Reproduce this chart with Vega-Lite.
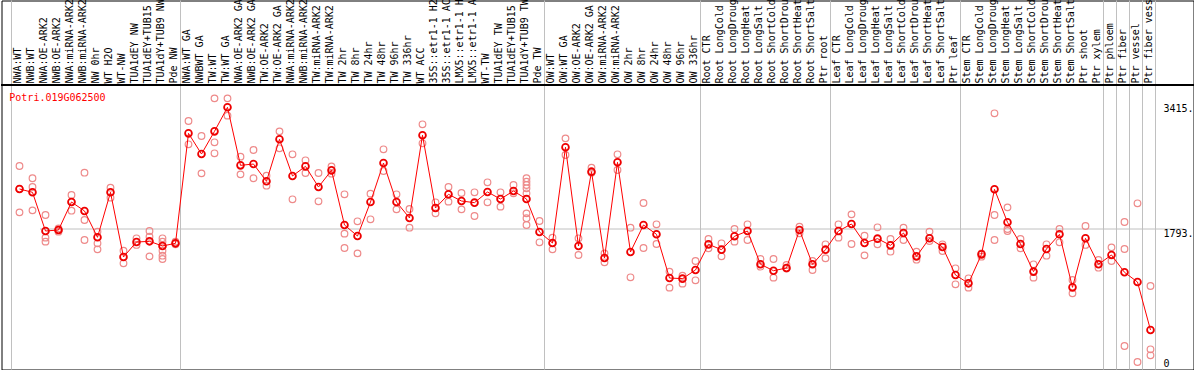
{
  "$schema": "https://vega.github.io/schema/vega-lite/v6.json",
  "width": 1192,
  "height": 369,
  "autosize": {"type": "none"},
  "padding": {"left": 1.5, "top": 0.5, "right": 0.5, "bottom": 0.5},
  "background": "white",
  "config": {"view": {"stroke": "black", "strokeWidth": 1}, "font": "DejaVu Sans Mono"},
  "title": {"text": "Potri.019G062500", "anchor": "start", "frame": "group", "orient": "top", "offset": -127.6, "dx": 7.8, "baseline": "middle", "font": "DejaVu Sans Mono", "fontSize": 10, "fontWeight": "normal", "color": "#ff0000"},
  "data": {"values": [
    {"s":"NWA:WT","g":"NW","k":"mean","v":2303},{"s":"NWA:WT","g":"NW","k":"rep","v":2601},{"s":"NWA:WT","g":"NW","k":"rep","v":2303},{"s":"NWA:WT","g":"NW","k":"rep","v":2000},
    {"s":"NWB:WT","g":"NW","k":"mean","v":2260},{"s":"NWB:WT","g":"NW","k":"rep","v":2442},{"s":"NWB:WT","g":"NW","k":"rep","v":2329},{"s":"NWB:WT","g":"NW","k":"rep","v":2026},
    {"s":"NWA:OE-ARK2","g":"NW","k":"mean","v":1758},{"s":"NWA:OE-ARK2","g":"NW","k":"rep","v":1966},{"s":"NWA:OE-ARK2","g":"NW","k":"rep","v":1672},{"s":"NWA:OE-ARK2","g":"NW","k":"rep","v":1620},
    {"s":"NWB:OE-ARK2","g":"NW","k":"mean","v":1771},{"s":"NWB:OE-ARK2","g":"NW","k":"rep","v":1792},{"s":"NWB:OE-ARK2","g":"NW","k":"rep","v":1771},{"s":"NWB:OE-ARK2","g":"NW","k":"rep","v":1749},
    {"s":"NWA:miRNA-ARK2","g":"NW","k":"mean","v":2134},{"s":"NWA:miRNA-ARK2","g":"NW","k":"rep","v":2225},{"s":"NWA:miRNA-ARK2","g":"NW","k":"rep","v":2134},{"s":"NWA:miRNA-ARK2","g":"NW","k":"rep","v":2022},
    {"s":"NWB:miRNA-ARK2","g":"NW","k":"mean","v":2018},{"s":"NWB:miRNA-ARK2","g":"NW","k":"rep","v":2515},{"s":"NWB:miRNA-ARK2","g":"NW","k":"rep","v":1901},{"s":"NWB:miRNA-ARK2","g":"NW","k":"rep","v":1641},
    {"s":"NW 0hr","g":"NW","k":"mean","v":1676},{"s":"NW 0hr","g":"NW","k":"rep","v":1750},{"s":"NW 0hr","g":"NW","k":"rep","v":1598},{"s":"NW 0hr","g":"NW","k":"rep","v":1520},
    {"s":"WT H2O","g":"NW","k":"mean","v":2260},{"s":"WT H2O","g":"NW","k":"rep","v":2320},{"s":"WT H2O","g":"NW","k":"rep","v":2191},
    {"s":"WT-NW","g":"NW","k":"mean","v":1421},{"s":"WT-NW","g":"NW","k":"rep","v":1503},{"s":"WT-NW","g":"NW","k":"rep","v":1339},
    {"s":"TUA1dEY NW","g":"NW","k":"mean","v":1615},{"s":"TUA1dEY NW","g":"NW","k":"rep","v":1663},{"s":"TUA1dEY NW","g":"NW","k":"rep","v":1577},
    {"s":"TUA1dEY+TUB15 NW","g":"NW","k":"mean","v":1624},{"s":"TUA1dEY+TUB15 NW","g":"NW","k":"rep","v":1758},{"s":"TUA1dEY+TUB15 NW","g":"NW","k":"rep","v":1685},{"s":"TUA1dEY+TUB15 NW","g":"NW","k":"rep","v":1429},
    {"s":"TUA1dY+TUB9 NW","g":"NW","k":"mean","v":1564},{"s":"TUA1dY+TUB9 NW","g":"NW","k":"rep","v":1663},{"s":"TUA1dY+TUB9 NW","g":"NW","k":"rep","v":1620},{"s":"TUA1dY+TUB9 NW","g":"NW","k":"rep","v":1503},{"s":"TUA1dY+TUB9 NW","g":"NW","k":"rep","v":1438},{"s":"TUA1dY+TUB9 NW","g":"NW","k":"rep","v":1395},
    {"s":"Pde NW","g":"NW","k":"mean","v":1598},{"s":"Pde NW","g":"NW","k":"rep","v":1620},{"s":"Pde NW","g":"NW","k":"rep","v":1585},
    {"s":"NWA:WT GA","g":"TW","k":"mean","v":3025},{"s":"NWA:WT GA","g":"TW","k":"rep","v":3185},{"s":"NWA:WT GA","g":"TW","k":"rep","v":2883},
    {"s":"NWBWT GA","g":"TW","k":"mean","v":2757},{"s":"NWBWT GA","g":"TW","k":"rep","v":2991},{"s":"NWBWT GA","g":"TW","k":"rep","v":2506},
    {"s":"TW:WT","g":"TW","k":"mean","v":3051},{"s":"TW:WT","g":"TW","k":"rep","v":3479},{"s":"TW:WT","g":"TW","k":"rep","v":2909},{"s":"TW:WT","g":"TW","k":"rep","v":2766},
    {"s":"TW:WT GA","g":"TW","k":"mean","v":3363},{"s":"TW:WT GA","g":"TW","k":"rep","v":3479},{"s":"TW:WT GA","g":"TW","k":"rep","v":3255},
    {"s":"NWA:OE-ARK2 GA","g":"TW","k":"mean","v":2610},{"s":"NWA:OE-ARK2 GA","g":"TW","k":"rep","v":2723},{"s":"NWA:OE-ARK2 GA","g":"TW","k":"rep","v":2493},
    {"s":"NWB:OE-ARK2 GA","g":"TW","k":"mean","v":2627},{"s":"NWB:OE-ARK2 GA","g":"TW","k":"rep","v":2809},{"s":"NWB:OE-ARK2 GA","g":"TW","k":"rep","v":2442},
    {"s":"TW:OE-ARK2","g":"TW","k":"mean","v":2403},{"s":"TW:OE-ARK2","g":"TW","k":"rep","v":2476},{"s":"TW:OE-ARK2","g":"TW","k":"rep","v":2346},
    {"s":"TW:OE-ARK2 GA","g":"TW","k":"mean","v":2948},{"s":"TW:OE-ARK2 GA","g":"TW","k":"rep","v":3051},{"s":"TW:OE-ARK2 GA","g":"TW","k":"rep","v":2831},
    {"s":"NWA:miRNA-ARK2 GA","g":"TW","k":"mean","v":2472},{"s":"NWA:miRNA-ARK2 GA","g":"TW","k":"rep","v":2753},{"s":"NWA:miRNA-ARK2 GA","g":"TW","k":"rep","v":2169},
    {"s":"NWB:miRNA-ARK2 GA","g":"TW","k":"mean","v":2597},{"s":"NWB:miRNA-ARK2 GA","g":"TW","k":"rep","v":2675},{"s":"NWB:miRNA-ARK2 GA","g":"TW","k":"rep","v":2511},
    {"s":"TW:miRNA-ARK2","g":"TW","k":"mean","v":2329},{"s":"TW:miRNA-ARK2","g":"TW","k":"rep","v":2511},{"s":"TW:miRNA-ARK2","g":"TW","k":"rep","v":2143},
    {"s":"TW:miRNA-ARK2 GA","g":"TW","k":"mean","v":2545},{"s":"TW:miRNA-ARK2 GA","g":"TW","k":"rep","v":2597},{"s":"TW:miRNA-ARK2 GA","g":"TW","k":"rep","v":2502},
    {"s":"TW 2hr","g":"TW","k":"mean","v":1836},{"s":"TW 2hr","g":"TW","k":"rep","v":2234},{"s":"TW 2hr","g":"TW","k":"rep","v":1724},{"s":"TW 2hr","g":"TW","k":"rep","v":1538},
    {"s":"TW 8hr","g":"TW","k":"mean","v":1693},{"s":"TW 8hr","g":"TW","k":"rep","v":1884},{"s":"TW 8hr","g":"TW","k":"rep","v":1468},
    {"s":"TW 24hr","g":"TW","k":"mean","v":2134},{"s":"TW 24hr","g":"TW","k":"rep","v":2243},{"s":"TW 24hr","g":"TW","k":"rep","v":1910},
    {"s":"TW 48hr","g":"TW","k":"mean","v":2640},{"s":"TW 48hr","g":"TW","k":"rep","v":2818},{"s":"TW 48hr","g":"TW","k":"rep","v":2537},
    {"s":"TW 96hr","g":"TW","k":"mean","v":2134},{"s":"TW 96hr","g":"TW","k":"rep","v":2234},{"s":"TW 96hr","g":"TW","k":"rep","v":2039},
    {"s":"TW 336hr","g":"TW","k":"mean","v":1927},{"s":"TW 336hr","g":"TW","k":"rep","v":2044},{"s":"TW 336hr","g":"TW","k":"rep","v":1801},
    {"s":"WT ACC","g":"TW","k":"mean","v":3000},{"s":"WT ACC","g":"TW","k":"rep","v":3142},{"s":"WT ACC","g":"TW","k":"rep","v":2896},
    {"s":"35S::etr1-1 H2O","g":"TW","k":"mean","v":2057},{"s":"35S::etr1-1 H2O","g":"TW","k":"rep","v":2130},{"s":"35S::etr1-1 H2O","g":"TW","k":"rep","v":1987},
    {"s":"35S::etr1-1 ACC","g":"TW","k":"mean","v":2234},{"s":"35S::etr1-1 ACC","g":"TW","k":"rep","v":2329},{"s":"35S::etr1-1 ACC","g":"TW","k":"rep","v":2139},
    {"s":"LMX5::etr1-1 H2O","g":"TW","k":"mean","v":2147},{"s":"LMX5::etr1-1 H2O","g":"TW","k":"rep","v":2251},{"s":"LMX5::etr1-1 H2O","g":"TW","k":"rep","v":2039},
    {"s":"LMX5::etr1-1 ACC","g":"TW","k":"mean","v":2126},{"s":"LMX5::etr1-1 ACC","g":"TW","k":"rep","v":2260},{"s":"LMX5::etr1-1 ACC","g":"TW","k":"rep","v":1953},
    {"s":"WT-TW","g":"TW","k":"mean","v":2264},{"s":"WT-TW","g":"TW","k":"rep","v":2390},{"s":"WT-TW","g":"TW","k":"rep","v":2130},
    {"s":"TUA1dEY TW","g":"TW","k":"mean","v":2173},{"s":"TUA1dEY TW","g":"TW","k":"rep","v":2260},{"s":"TUA1dEY TW","g":"TW","k":"rep","v":2074},
    {"s":"TUA1dEY+TUB15 TW","g":"TW","k":"mean","v":2277},{"s":"TUA1dEY+TUB15 TW","g":"TW","k":"rep","v":2355},{"s":"TUA1dEY+TUB15 TW","g":"TW","k":"rep","v":2247},
    {"s":"TUA1dY+TUB9 TW","g":"TW","k":"mean","v":2173},{"s":"TUA1dY+TUB9 TW","g":"TW","k":"rep","v":2442},{"s":"TUA1dY+TUB9 TW","g":"TW","k":"rep","v":2398},{"s":"TUA1dY+TUB9 TW","g":"TW","k":"rep","v":2355},{"s":"TUA1dY+TUB9 TW","g":"TW","k":"rep","v":2312},{"s":"TUA1dY+TUB9 TW","g":"TW","k":"rep","v":2247},{"s":"TUA1dY+TUB9 TW","g":"TW","k":"rep","v":1987},{"s":"TUA1dY+TUB9 TW","g":"TW","k":"rep","v":1923},{"s":"TUA1dY+TUB9 TW","g":"TW","k":"rep","v":1836},
    {"s":"Pde TW","g":"TW","k":"mean","v":1745},{"s":"Pde TW","g":"TW","k":"rep","v":1888},{"s":"Pde TW","g":"TW","k":"rep","v":1611},
    {"s":"OW:WT","g":"OW","k":"mean","v":1602},{"s":"OW:WT","g":"OW","k":"rep","v":1672},{"s":"OW:WT","g":"OW","k":"rep","v":1520},
    {"s":"OW:WT GA","g":"OW","k":"mean","v":2844},{"s":"OW:WT GA","g":"OW","k":"rep","v":2960},{"s":"OW:WT GA","g":"OW","k":"rep","v":2744},
    {"s":"OW:OE-ARK2","g":"OW","k":"mean","v":1564},{"s":"OW:OE-ARK2","g":"OW","k":"rep","v":1663},{"s":"OW:OE-ARK2","g":"OW","k":"rep","v":1447},
    {"s":"OW:OE-ARK2 GA","g":"OW","k":"mean","v":2528},{"s":"OW:OE-ARK2 GA","g":"OW","k":"rep","v":2580},{"s":"OW:OE-ARK2 GA","g":"OW","k":"rep","v":2515},
    {"s":"OW:miRNA-ARK2","g":"OW","k":"mean","v":1408},{"s":"OW:miRNA-ARK2","g":"OW","k":"rep","v":1468},{"s":"OW:miRNA-ARK2","g":"OW","k":"rep","v":1352},
    {"s":"OW:miRNA-ARK2 GA","g":"OW","k":"mean","v":2649},{"s":"OW:miRNA-ARK2 GA","g":"OW","k":"rep","v":2753},{"s":"OW:miRNA-ARK2 GA","g":"OW","k":"rep","v":2550},
    {"s":"OW 2hr","g":"OW","k":"mean","v":1486},{"s":"OW 2hr","g":"OW","k":"rep","v":1801},{"s":"OW 2hr","g":"OW","k":"rep","v":1157},
    {"s":"OW 8hr","g":"OW","k":"mean","v":1836},{"s":"OW 8hr","g":"OW","k":"rep","v":2121},{"s":"OW 8hr","g":"OW","k":"rep","v":1538},
    {"s":"OW 24hr","g":"OW","k":"mean","v":1715},{"s":"OW 24hr","g":"OW","k":"rep","v":1845},{"s":"OW 24hr","g":"OW","k":"rep","v":1589},
    {"s":"OW 48hr","g":"OW","k":"mean","v":1148},{"s":"OW 48hr","g":"OW","k":"rep","v":1231},{"s":"OW 48hr","g":"OW","k":"rep","v":1023},
    {"s":"OW 96hr","g":"OW","k":"mean","v":1140},{"s":"OW 96hr","g":"OW","k":"rep","v":1179},{"s":"OW 96hr","g":"OW","k":"rep","v":1075},
    {"s":"OW 336hr","g":"OW","k":"mean","v":1252},{"s":"OW 336hr","g":"OW","k":"rep","v":1369},{"s":"OW 336hr","g":"OW","k":"rep","v":1118},
    {"s":"Root CTR","g":"Root","k":"mean","v":1585},{"s":"Root CTR","g":"Root","k":"rep","v":1654},{"s":"Root CTR","g":"Root","k":"rep","v":1533},
    {"s":"Root LongCold","g":"Root","k":"mean","v":1516},{"s":"Root LongCold","g":"Root","k":"rep","v":1598},{"s":"Root LongCold","g":"Root","k":"rep","v":1429},
    {"s":"Root LongDrought","g":"Root","k":"mean","v":1689},{"s":"Root LongDrought","g":"Root","k":"rep","v":1784},{"s":"Root LongDrought","g":"Root","k":"rep","v":1620},
    {"s":"Root LongHeat","g":"Root","k":"mean","v":1758},{"s":"Root LongHeat","g":"Root","k":"rep","v":1845},{"s":"Root LongHeat","g":"Root","k":"rep","v":1641},
    {"s":"Root LongSalt","g":"Root","k":"mean","v":1326},{"s":"Root LongSalt","g":"Root","k":"rep","v":1395},{"s":"Root LongSalt","g":"Root","k":"rep","v":1295},
    {"s":"Root ShortCold","g":"Root","k":"mean","v":1243},{"s":"Root ShortCold","g":"Root","k":"rep","v":1395},{"s":"Root ShortCold","g":"Root","k":"rep","v":1153},
    {"s":"Root ShortDrought","g":"Root","k":"mean","v":1278},{"s":"Root ShortDrought","g":"Root","k":"rep","v":1317},{"s":"Root ShortDrought","g":"Root","k":"rep","v":1270},
    {"s":"Root ShortHeat","g":"Root","k":"mean","v":1771},{"s":"Root ShortHeat","g":"Root","k":"rep","v":1814},{"s":"Root ShortHeat","g":"Root","k":"rep","v":1728},
    {"s":"Root ShortSalt","g":"Root","k":"mean","v":1326},{"s":"Root ShortSalt","g":"Root","k":"rep","v":1369},{"s":"Root ShortSalt","g":"Root","k":"rep","v":1252},
    {"s":"Ptr root","g":"Root","k":"mean","v":1516},{"s":"Ptr root","g":"Root","k":"rep","v":1585},{"s":"Ptr root","g":"Root","k":"rep","v":1404},
    {"s":"Leaf CTR","g":"Leaf","k":"mean","v":1758},{"s":"Leaf CTR","g":"Leaf","k":"rep","v":1845},{"s":"Leaf CTR","g":"Leaf","k":"rep","v":1672},
    {"s":"Leaf LongCold","g":"Leaf","k":"mean","v":1849},{"s":"Leaf LongCold","g":"Leaf","k":"rep","v":1974},{"s":"Leaf LongCold","g":"Leaf","k":"rep","v":1589},
    {"s":"Leaf LongDrought","g":"Leaf","k":"mean","v":1602},{"s":"Leaf LongDrought","g":"Leaf","k":"rep","v":1698},{"s":"Leaf LongDrought","g":"Leaf","k":"rep","v":1442},
    {"s":"Leaf LongHeat","g":"Leaf","k":"mean","v":1659},{"s":"Leaf LongHeat","g":"Leaf","k":"rep","v":1806},{"s":"Leaf LongHeat","g":"Leaf","k":"rep","v":1585},
    {"s":"Leaf LongSalt","g":"Leaf","k":"mean","v":1572},{"s":"Leaf LongSalt","g":"Leaf","k":"rep","v":1654},{"s":"Leaf LongSalt","g":"Leaf","k":"rep","v":1490},
    {"s":"Leaf ShortCold","g":"Leaf","k":"mean","v":1732},{"s":"Leaf ShortCold","g":"Leaf","k":"rep","v":1801},{"s":"Leaf ShortCold","g":"Leaf","k":"rep","v":1641},
    {"s":"Leaf ShortDrought","g":"Leaf","k":"mean","v":1429},{"s":"Leaf ShortDrought","g":"Leaf","k":"rep","v":1490},{"s":"Leaf ShortDrought","g":"Leaf","k":"rep","v":1386},
    {"s":"Leaf ShortHeat","g":"Leaf","k":"mean","v":1663},{"s":"Leaf ShortHeat","g":"Leaf","k":"rep","v":1750},{"s":"Leaf ShortHeat","g":"Leaf","k":"rep","v":1628},
    {"s":"Leaf ShortSalt","g":"Leaf","k":"mean","v":1551},{"s":"Leaf ShortSalt","g":"Leaf","k":"rep","v":1585},{"s":"Leaf ShortSalt","g":"Leaf","k":"rep","v":1499},
    {"s":"Ptr leaf","g":"Leaf","k":"mean","v":1187},{"s":"Ptr leaf","g":"Leaf","k":"rep","v":1274},{"s":"Ptr leaf","g":"Leaf","k":"rep","v":1066},
    {"s":"Stem CTR","g":"Stem","k":"mean","v":1079},{"s":"Stem CTR","g":"Stem","k":"rep","v":1144},{"s":"Stem CTR","g":"Stem","k":"rep","v":1023},
    {"s":"Stem LongCold","g":"Stem","k":"mean","v":1455},{"s":"Stem LongCold","g":"Stem","k":"rep","v":1468},{"s":"Stem LongCold","g":"Stem","k":"rep","v":1425},
    {"s":"Stem LongDrought","g":"Stem","k":"mean","v":2299},{"s":"Stem LongDrought","g":"Stem","k":"rep","v":3285},{"s":"Stem LongDrought","g":"Stem","k":"rep","v":1966},{"s":"Stem LongDrought","g":"Stem","k":"rep","v":1641},
    {"s":"Stem LongHeat","g":"Stem","k":"mean","v":1871},{"s":"Stem LongHeat","g":"Stem","k":"rep","v":2065},{"s":"Stem LongHeat","g":"Stem","k":"rep","v":1784},{"s":"Stem LongHeat","g":"Stem","k":"rep","v":1758},
    {"s":"Stem LongSalt","g":"Stem","k":"mean","v":1590},{"s":"Stem LongSalt","g":"Stem","k":"rep","v":1654},{"s":"Stem LongSalt","g":"Stem","k":"rep","v":1533},
    {"s":"Stem ShortCold","g":"Stem","k":"mean","v":1231},{"s":"Stem ShortCold","g":"Stem","k":"rep","v":1326},{"s":"Stem ShortCold","g":"Stem","k":"rep","v":1153},
    {"s":"Stem ShortDrought","g":"Stem","k":"mean","v":1525},{"s":"Stem ShortDrought","g":"Stem","k":"rep","v":1585},{"s":"Stem ShortDrought","g":"Stem","k":"rep","v":1438},
    {"s":"Stem ShortHeat","g":"Stem","k":"mean","v":1715},{"s":"Stem ShortHeat","g":"Stem","k":"rep","v":1784},{"s":"Stem ShortHeat","g":"Stem","k":"rep","v":1611},
    {"s":"Stem ShortSalt","g":"Stem","k":"mean","v":1027},{"s":"Stem ShortSalt","g":"Stem","k":"rep","v":1122},{"s":"Stem ShortSalt","g":"Stem","k":"rep","v":949},
    {"s":"Ptr shoot","g":"Stem","k":"mean","v":1663},{"s":"Ptr shoot","g":"Stem","k":"rep","v":1823},{"s":"Ptr shoot","g":"Stem","k":"rep","v":1577},
    {"s":"Ptr xylem","g":"Stem","k":"mean","v":1326},{"s":"Ptr xylem","g":"Stem","k":"rep","v":1382},{"s":"Ptr xylem","g":"Stem","k":"rep","v":1282},
    {"s":"Ptr phloem","g":"Phloem","k":"mean","v":1447},{"s":"Ptr phloem","g":"Phloem","k":"rep","v":1546},{"s":"Ptr phloem","g":"Phloem","k":"rep","v":1369},
    {"s":"Ptr fiber","g":"Fiber","k":"mean","v":1222},{"s":"Ptr fiber","g":"Fiber","k":"rep","v":1875},{"s":"Ptr fiber","g":"Fiber","k":"rep","v":1525},{"s":"Ptr fiber","g":"Fiber","k":"rep","v":266},
    {"s":"Ptr vessel","g":"Vessel","k":"mean","v":1096},{"s":"Ptr vessel","g":"Vessel","k":"rep","v":2117},{"s":"Ptr vessel","g":"Vessel","k":"rep","v":58},
    {"s":"Ptr fiber vessel","g":"Fiber vessel","k":"mean","v":474},{"s":"Ptr fiber vessel","g":"Fiber vessel","k":"rep","v":1045},{"s":"Ptr fiber vessel","g":"Fiber vessel","k":"rep","v":223},{"s":"Ptr fiber vessel","g":"Fiber vessel","k":"rep","v":145}
  ]},
  "layer": [
    {
      "transform": [
        {"filter": "datum.k == 'mean'"},
        {"window": [{"op": "row_number", "as": "rn"}], "groupby": ["g"]}
      ],
      "mark": {"type": "rule", "color": "#c0c0c0", "strokeWidth": 1},
      "encoding": {
        "x": {"field": "s", "type": "nominal", "sort": null, "bandPosition": 0,
              "scale": {"type": "band", "paddingInner": 0, "paddingOuter": 0, "range": [10, 1154]}},
        "strokeOpacity": {"condition": {"test": "datum.rn == 1", "value": 1}, "value": 0}
      }
    },
    {
      "transform": [
        {"filter": "datum.k == 'mean'"},
        {"joinaggregate": [{"op": "count", "as": "n"}]},
        {"window": [{"op": "row_number", "as": "rn"}]},
        {"filter": "datum.rn == datum.n"}
      ],
      "mark": {"type": "rule", "color": "#c0c0c0", "strokeWidth": 1},
      "encoding": {
        "x": {"field": "s", "type": "nominal", "sort": null, "bandPosition": 1}
      }
    },
    {
      "mark": {"type": "rule", "color": "black", "strokeWidth": 1},
      "encoding": {
        "y": {"datum": 3646, "type": "quantitative"}
      }
    },
    {
      "transform": [{"filter": "datum.k == 'rep'"}],
      "mark": {"type": "point", "shape": "circle", "filled": false, "size": 44, "strokeWidth": 1.2, "color": "#ee8a8a", "opacity": 1},
      "encoding": {
        "x": {"field": "s", "type": "nominal", "sort": null, "bandPosition": 0.615},
        "y": {"field": "v", "type": "quantitative"}
      }
    },
    {
      "transform": [{"filter": "datum.k == 'mean'"}],
      "mark": {"type": "line", "color": "#ff0000", "strokeWidth": 1},
      "encoding": {
        "x": {"field": "s", "type": "nominal", "sort": null, "bandPosition": 0.615},
        "y": {"field": "v", "type": "quantitative"},
        "order": {"value": null}
      }
    },
    {
      "transform": [{"filter": "datum.k == 'mean'"}],
      "mark": {"type": "point", "shape": "circle", "filled": false, "size": 46, "strokeWidth": 1.8, "color": "#ee0000", "opacity": 1},
      "encoding": {
        "x": {"field": "s", "type": "nominal", "sort": null, "bandPosition": 0.615,
              "axis": {"orient": "top", "offset": -85, "title": null, "labelAngle": -90, "labelAlign": "left", "labelBaseline": "middle", "labelPadding": 2.5, "ticks": false, "tickSize": 0, "domain": false, "grid": false, "labelFont": "DejaVu Sans Mono", "labelFontSize": 10, "labelColor": "black", "bandPosition": 0.42, "labelLimit": 300, "labelOverlap": false}},
        "y": {"field": "v", "type": "quantitative",
              "scale": {"domain": [0, 3415], "range": [366, 102.8], "zero": false, "nice": false},
              "axis": {"orient": "right", "values": [0, 1793, 3415], "title": null, "domain": false, "ticks": false, "tickSize": 0, "grid": true, "gridColor": "#c0c0c0", "gridOpacity": {"condition": {"test": "datum.value == 1793", "value": 1}, "value": 0}, "labelAlign": "left", "labelPadding": -30.5, "labelFont": "DejaVu Sans Mono", "labelFontSize": 10, "labelColor": "black", "labelExpr": "datum.value == 0 ? '0' : format(datum.value, 'd') + '.'", "labelBaseline": {"condition": {"test": "datum.value == 0", "value": "alphabetic"}, "value": "top"}, "labelOverlap": false, "labelFlush": false}}
      }
    }
  ]
}
